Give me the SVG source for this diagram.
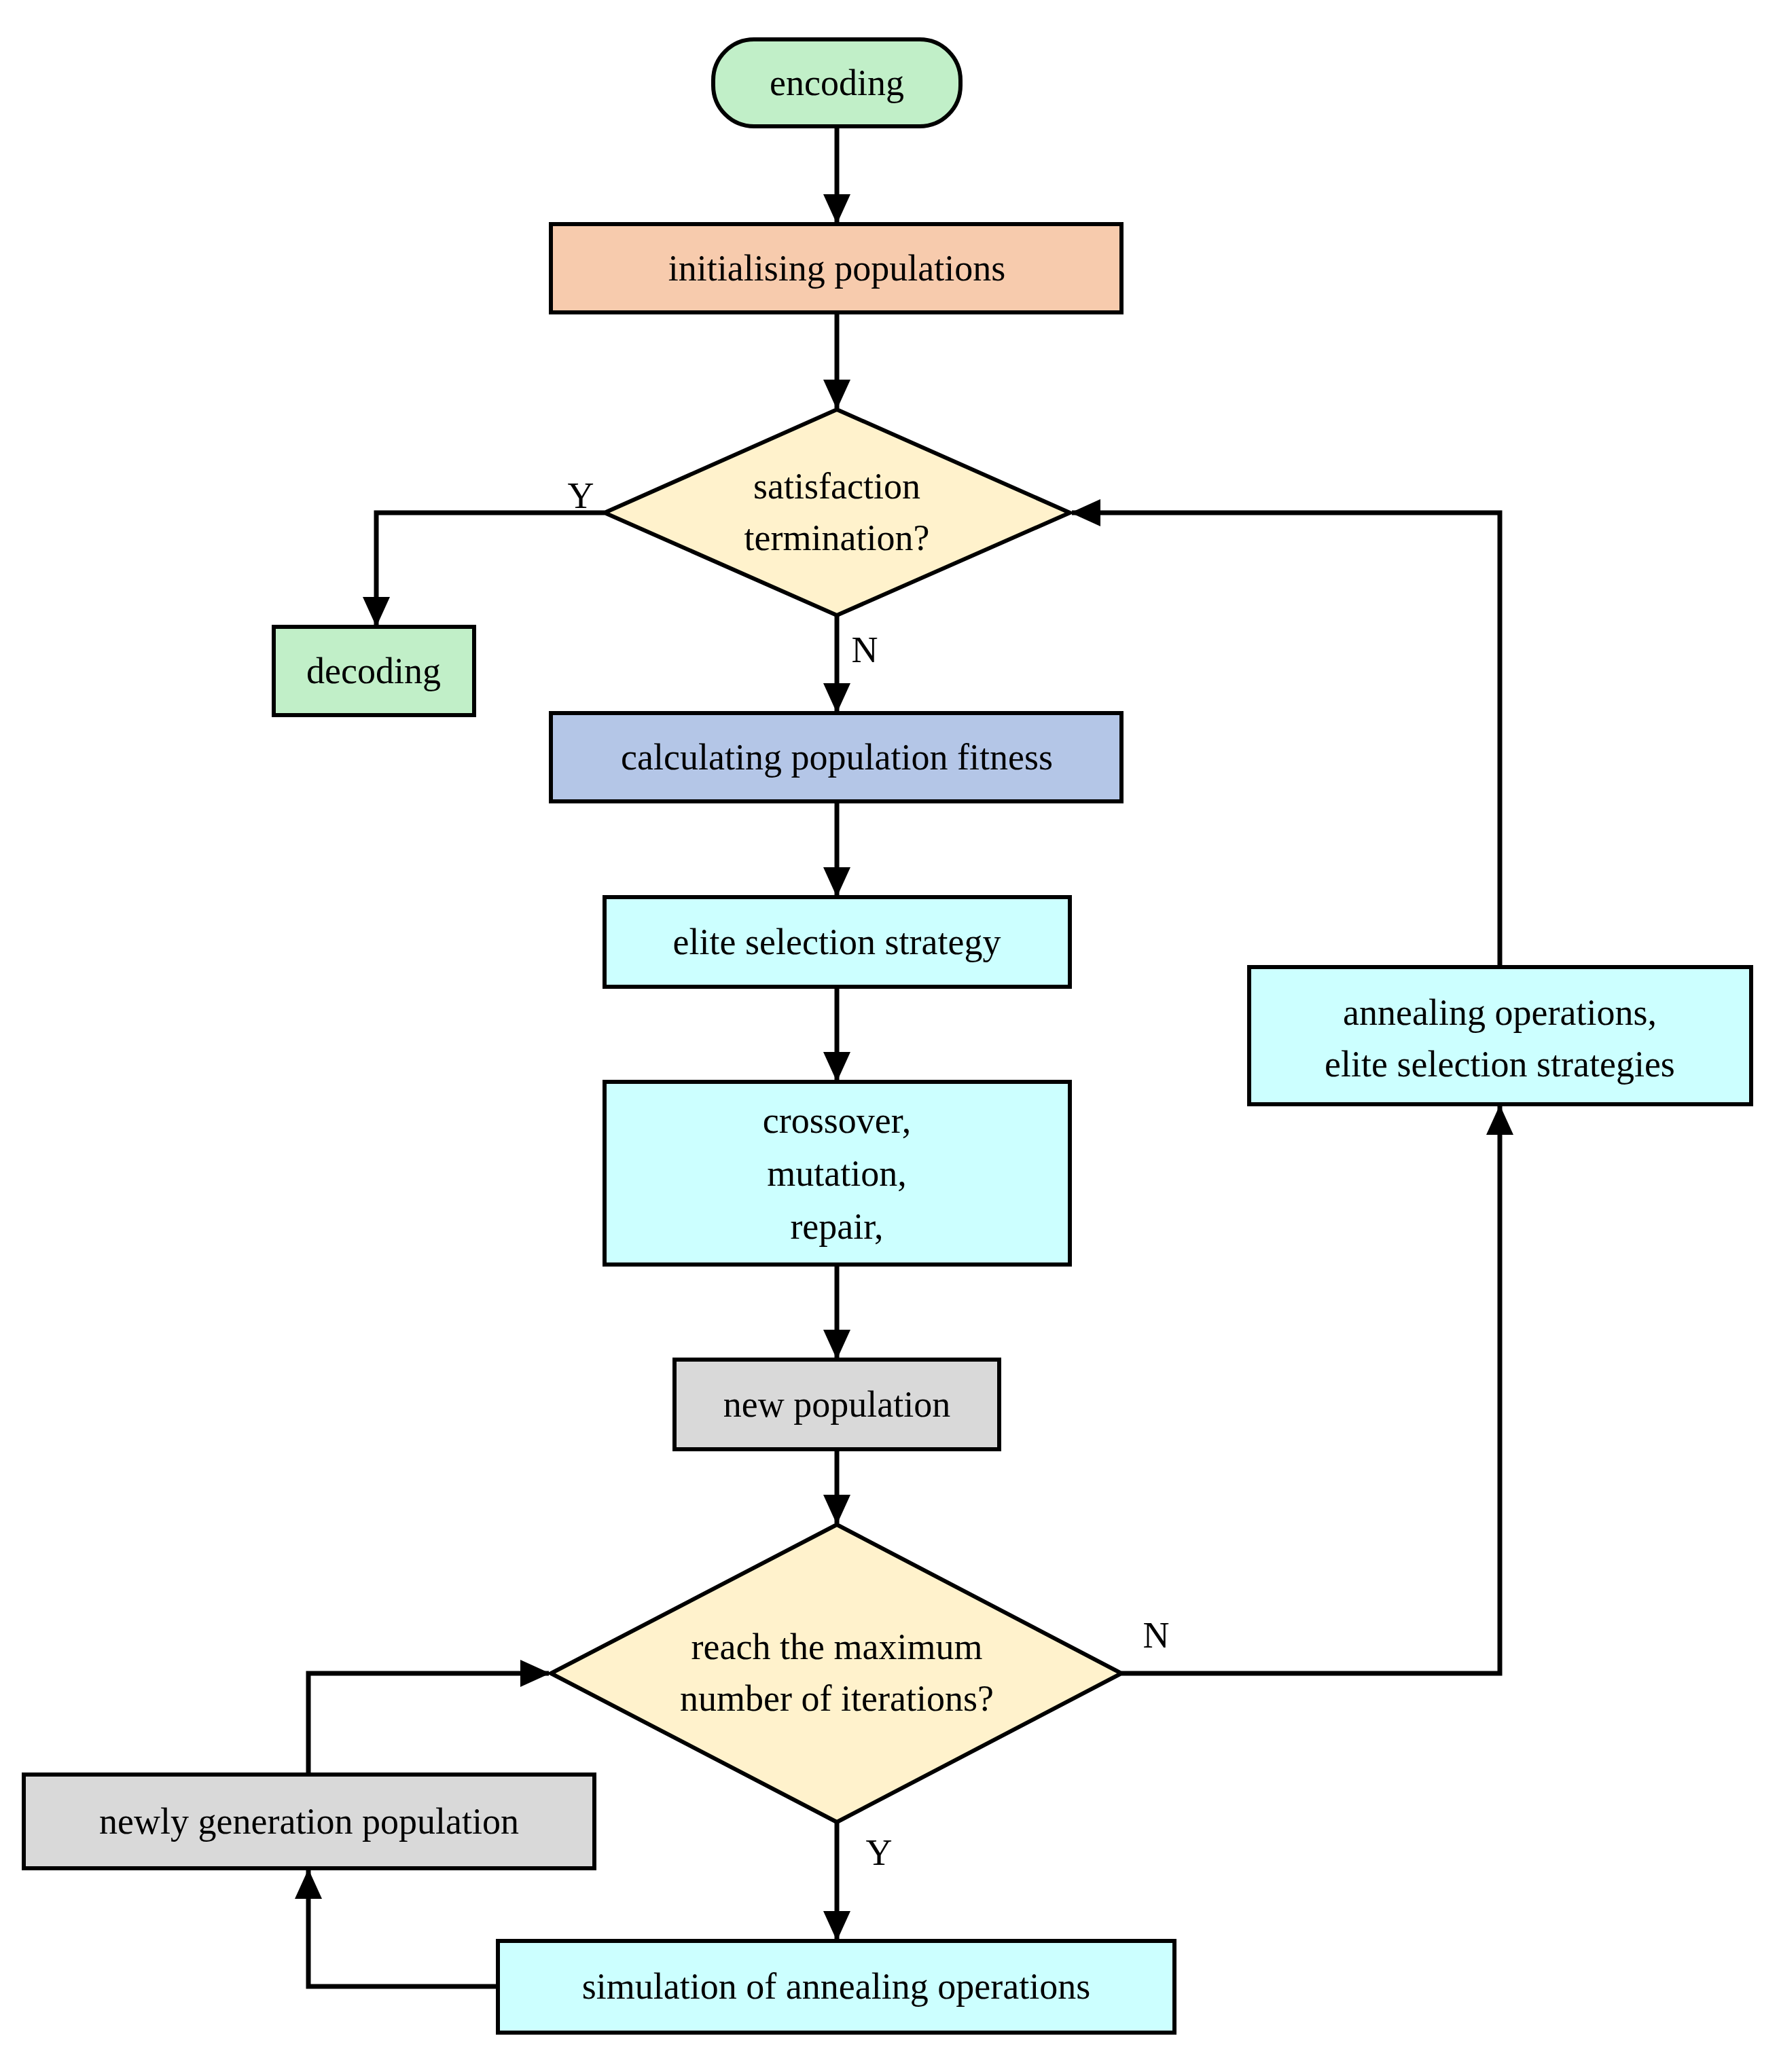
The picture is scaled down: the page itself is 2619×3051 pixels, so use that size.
<svg xmlns="http://www.w3.org/2000/svg" width="2619" height="3051" viewBox="0 0 2619 3051">
<style>
.n{stroke:#000;stroke-width:6}
.t{font-family:"Liberation Serif",serif;font-size:54px;text-anchor:middle;fill:#000}
.e{fill:none;stroke:#000;stroke-width:7}
</style>
<defs>
<marker id="a" markerUnits="userSpaceOnUse" markerWidth="44" markerHeight="40" refX="42" refY="20" orient="auto">
<path d="M0,0 L44,20 L0,40 Z" fill="#000"/>
</marker>
</defs>
<rect width="2619" height="3051" fill="#fff"/>
<g id="connectors">
<path class="e" d="M1232,186 V328" marker-end="url(#a)"/>
<path class="e" d="M1232,460 V601" marker-end="url(#a)"/>
<path class="e" d="M890,755 H554 V921" marker-end="url(#a)"/>
<path class="e" d="M1232,906 V1048" marker-end="url(#a)"/>
<path class="e" d="M1232,1180 V1319" marker-end="url(#a)"/>
<path class="e" d="M1232,1453 V1591" marker-end="url(#a)"/>
<path class="e" d="M1232,1862 V2000" marker-end="url(#a)"/>
<path class="e" d="M1232,2134 V2243" marker-end="url(#a)"/>
<path class="e" d="M2208,1424 V755 H1578" marker-end="url(#a)"/>
<path class="e" d="M1651,2464 H2208 V1629" marker-end="url(#a)"/>
<path class="e" d="M1232,2683 V2856" marker-end="url(#a)"/>
<path class="e" d="M733,2925 H454 V2754" marker-end="url(#a)"/>
<path class="e" d="M454,2613 V2464 H808" marker-end="url(#a)"/>
<text class="t" x="855" y="748">Y</text>
<text class="t" x="1273" y="975">N</text>
<text class="t" x="1702" y="2426">N</text>
<text class="t" x="1294" y="2746">Y</text>
</g>
<g id="encoding"><rect class="n" x="1050" y="58" width="364" height="128" rx="60" fill="#c1efc8"/><text class="t" x="1232" y="140">encoding</text></g>
<g id="init"><rect class="n" x="811" y="330" width="840" height="130" fill="#f7cbad"/><text class="t" x="1232" y="413">initialising populations</text></g>
<g id="d1"><polygon class="n" points="1232,603 1575,755 1232,906 890,755" fill="#fff2cc"/><text class="t" x="1232" y="734">satisfaction</text><text class="t" x="1232" y="810">termination?</text></g>
<g id="decoding"><rect class="n" x="403" y="923" width="295" height="130" fill="#c1efc8"/><text class="t" x="550" y="1006">decoding</text></g>
<g id="calc"><rect class="n" x="811" y="1050" width="840" height="130" fill="#b4c6e7"/><text class="t" x="1232" y="1133">calculating population fitness</text></g>
<g id="elite"><rect class="n" x="890" y="1321" width="685" height="132" fill="#ccffff"/><text class="t" x="1232" y="1405">elite selection strategy</text></g>
<g id="cross"><rect class="n" x="890" y="1593" width="685" height="269" fill="#ccffff"/><text class="t" x="1232" y="1668">crossover,</text><text class="t" x="1232" y="1746">mutation,</text><text class="t" x="1232" y="1824">repair,</text></g>
<g id="newpop"><rect class="n" x="993" y="2002" width="478" height="132" fill="#d9d9d9"/><text class="t" x="1232" y="2086">new population</text></g>
<g id="d2"><polygon class="n" points="1232,2245 1651,2464 1232,2683 811,2464" fill="#fff2cc"/><text class="t" x="1232" y="2443">reach the maximum</text><text class="t" x="1232" y="2519">number of iterations?</text></g>
<g id="anneal"><rect class="n" x="1839" y="1424" width="739" height="202" fill="#ccffff"/><text class="t" x="2208" y="1509">annealing operations,</text><text class="t" x="2208" y="1585">elite selection strategies</text></g>
<g id="newly"><rect class="n" x="35" y="2613" width="840" height="138" fill="#d9d9d9"/><text class="t" x="455" y="2700">newly generation population</text></g>
<g id="sim"><rect class="n" x="733" y="2858" width="996" height="135" fill="#ccffff"/><text class="t" x="1231" y="2943">simulation of annealing operations</text></g>
</svg>
